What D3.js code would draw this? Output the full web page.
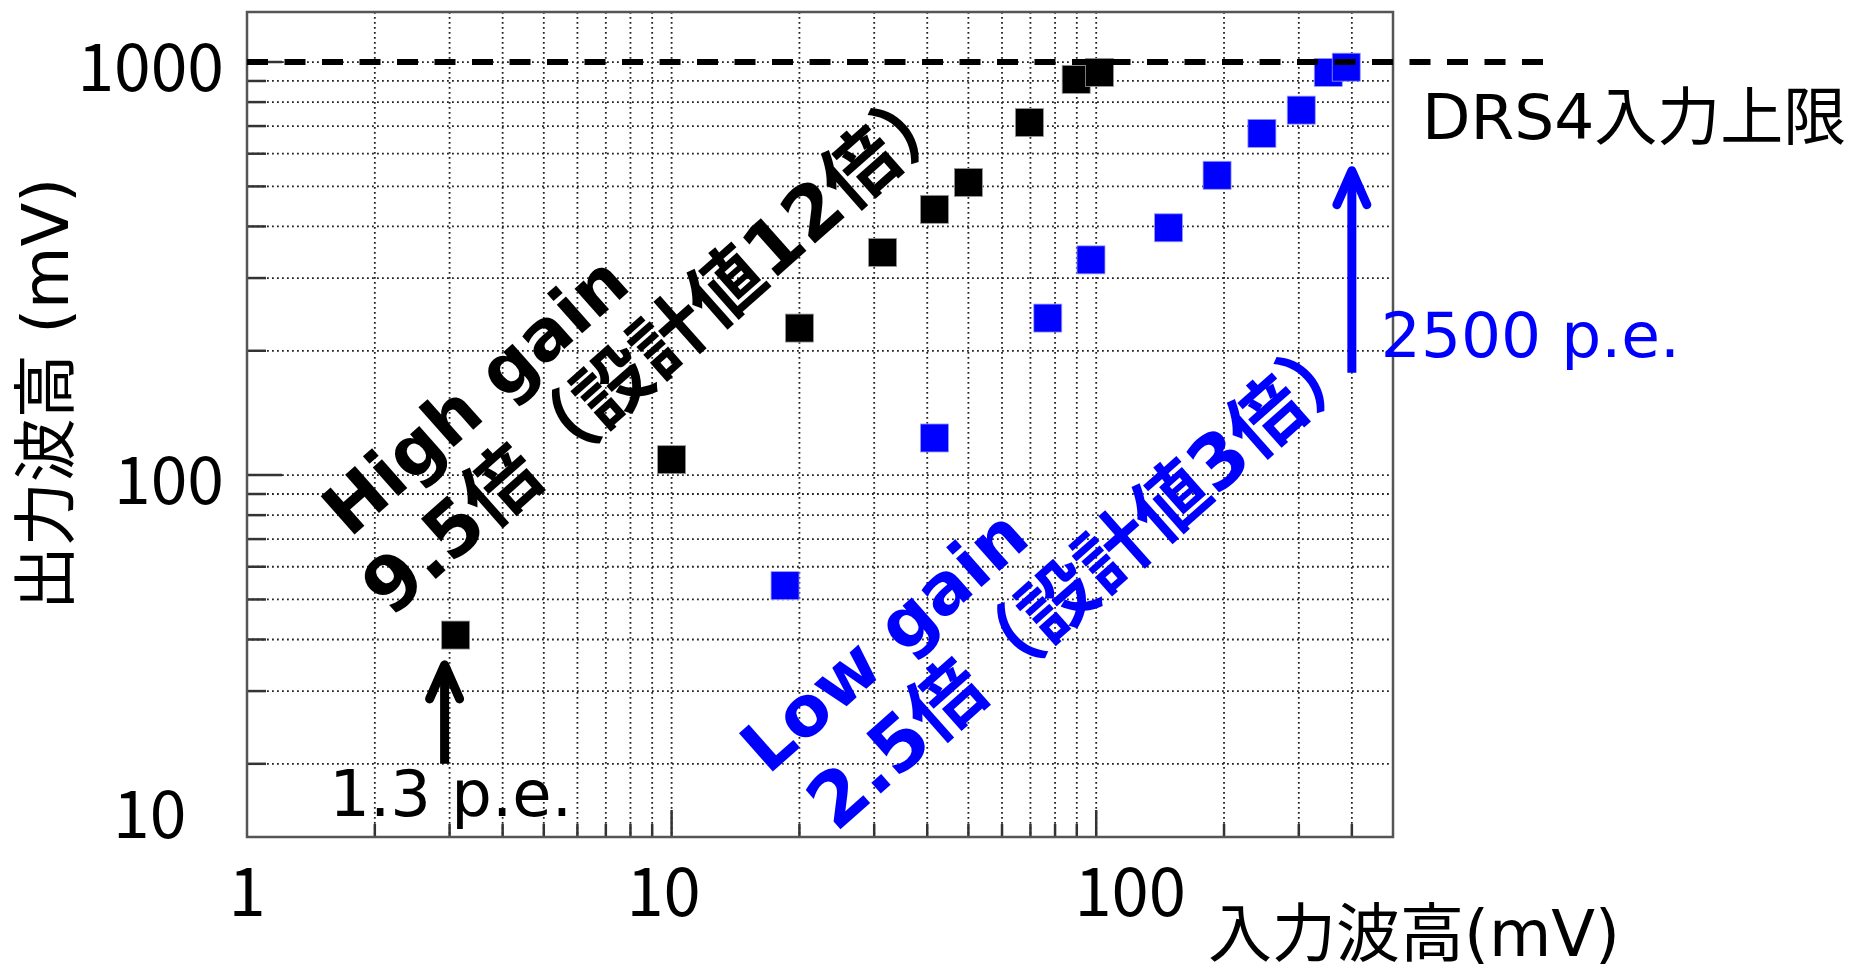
<!DOCTYPE html>
<html>
<head>
<meta charset="utf-8">
<title>High gain / Low gain</title>
<script src="https://d3js.org/d3.v7.min.js"></script>
<style>
    body { margin: 0; background: #fff; }
    .grid line { stroke: #222; stroke-width: 1.8; stroke-dasharray: 1.8,3.2; }
    .frame { fill: none; stroke: #555; stroke-width: 2.5; }
    .tickmark { stroke: #333; stroke-width: 2.5; }
    .num { font-family: "Noto Sans CJK JP", sans-serif; fill: #000; }
    .lbl { font-family: "DejaVu Sans", "Noto Sans CJK JP", sans-serif; }
</style>
</head>
<body>
<svg width="1865" height="971"></svg>
<script>
    // input amplitude (mV) vs output amplitude (mV)
    var hiX = [3.1, 10, 20, 31.4, 41.6, 50, 69.6, 89.7, 101.8];
    var hiY = [41, 109, 227, 346, 440, 511, 714, 908, 944];
    var loX = [18.5, 41.6, 76.9, 97.2, 148, 192.6, 245.6, 304, 352, 388];
    var loY = [54, 123, 240, 332, 397, 532, 672, 765, 944, 972];

    var xTicks = [1, 10, 100];
    var yTicks = [1000, 100, 10];
    var drsLimit = 1000;

    // arrows: x, from, to (mV)
    var hiArrow = [2.92, 20, 35.5];
    var loArrow = [400, 177, 558];

    var svg = d3.select("svg");
    svg.append("rect").attr("width", 1865).attr("height", 971).attr("fill", "#fff");

    var x = d3.scaleLog().domain([1, 500]).range([247, 1393]);
    var y = d3.scaleLog().domain([13.3, 1322]).range([837, 12]);
    var L = x.range()[0], R = x.range()[1], B = y.range()[0], T = y.range()[1];

    function minorVals(lo, hi) {
        var out = [];
        for (var d = Math.pow(10, Math.floor(Math.log10(lo))); d <= hi; d *= 10) {
            for (var k = 1; k <= 9; k++) {
                var v = k * d;
                if (v > lo * 1.0001 && v < hi * 0.9999) out.push({v: v, major: k === 1});
            }
        }
        return out;
    }
    var xv = minorVals(1, 500), yv = minorVals(13.3, 1322);

    // grid
    var grid = svg.append("g").attr("class", "grid");
    grid.selectAll(".gx").data(xv).enter().append("line")
        .attr("x1", function(d) { return x(d.v); }).attr("x2", function(d) { return x(d.v); })
        .attr("y1", T).attr("y2", B);
    grid.selectAll(".gy").data(yv).enter().append("line")
        .attr("y1", function(d) { return y(d.v); }).attr("y2", function(d) { return y(d.v); })
        .attr("x1", L).attr("x2", R);

    // ticks
    svg.selectAll(".tx").data(xv).enter().append("line").attr("class", "tickmark")
        .attr("x1", function(d) { return x(d.v); }).attr("x2", function(d) { return x(d.v); })
        .attr("y1", B).attr("y2", function(d) { return B - (d.major ? 27 : 13); });
    svg.selectAll(".ty").data(yv).enter().append("line").attr("class", "tickmark")
        .attr("y1", function(d) { return y(d.v); }).attr("y2", function(d) { return y(d.v); })
        .attr("x1", L).attr("x2", function(d) { return L + (d.major ? 35 : 19); });

    svg.append("rect").attr("class", "frame")
        .attr("x", L).attr("y", T).attr("width", R - L).attr("height", B - T);

    // tick labels
    var xNudge = {10: -8, 100: 34};
    svg.selectAll(".xl").data(xTicks).enter().append("text").attr("class", "num")
        .attr("x", function(d) { return x(d) + (xNudge[d] || 0); })
        .attr("y", 916)
        .attr("text-anchor", "middle")
        .style("font-size", "67px")
        .text(function(d) { return d; });
    svg.selectAll(".yl").data(yTicks).enter().append("text").attr("class", "num")
        .attr("x", function(d) { return d < y.domain()[0] ? 113 : L - 23; })
        .attr("y", function(d) { return d < y.domain()[0] ? B + 1 : y(d) + 29; })
        .attr("text-anchor", function(d) { return d < y.domain()[0] ? "start" : "end"; })
        .style("font-size", "66px")
        .text(function(d) { return d; });

    // axis titles
    svg.append("text").attr("class", "lbl")
        .attr("transform", "translate(68,394) rotate(-90)")
        .attr("text-anchor", "middle")
        .style("font-size", "64px")
        .text("出力波高 (mV)");
    svg.append("text").attr("class", "lbl")
        .attr("x", 1208).attr("y", 956)
        .style("font-size", "64px")
        .text("入力波高(mV)");

    // markers
    var sq = 28;
    svg.selectAll(".hi").data(hiX).enter().append("rect")
        .attr("x", function(d) { return x(d) - sq / 2; })
        .attr("y", function(d, i) { return y(hiY[i]) - sq / 2; })
        .attr("width", sq).attr("height", sq)
        .attr("fill", "#000").attr("stroke", "#999").attr("stroke-width", 0.8);
    svg.selectAll(".lo").data(loX).enter().append("rect")
        .attr("x", function(d) { return x(d) - sq / 2; })
        .attr("y", function(d, i) { return y(loY[i]) - sq / 2; })
        .attr("width", sq).attr("height", sq)
        .attr("fill", "#0000ff").attr("stroke", "#99f").attr("stroke-width", 0.8);

    // DRS4 limit
    svg.append("line")
        .attr("x1", L).attr("x2", 1543)
        .attr("y1", y(drsLimit)).attr("y2", y(drsLimit))
        .attr("stroke", "#000").attr("stroke-width", 6)
        .attr("stroke-dasharray", "21,16.5");
    svg.append("text").attr("class", "lbl")
        .attr("x", R + 29).attr("y", y(drsLimit) + 77)
        .style("font-size", "63px")
        .text("DRS4入力上限");

    // arrows
    function arrow(a, color) {
        var ax = x(a[0]), y0 = y(a[1]), tip = y(a[2]) + 4;
        svg.append("line").attr("x1", ax).attr("x2", ax).attr("y1", y0).attr("y2", tip + 2)
            .attr("stroke", color).attr("stroke-width", 9);
        svg.append("polyline")
            .attr("points", [[ax - 15, tip + 34], [ax, tip], [ax + 15, tip + 34]].join(" "))
            .attr("fill", "none").attr("stroke", color).attr("stroke-width", 9)
            .attr("stroke-linecap", "round").attr("stroke-linejoin", "round");
        return [ax, y0];
    }
    var ha = arrow(hiArrow, "#000");
    var la = arrow(loArrow, "#0000ff");

    svg.append("text").attr("class", "lbl")
        .attr("x", ha[0] + 6).attr("y", ha[1] + 52)
        .attr("text-anchor", "middle")
        .style("font-size", "64px")
        .text("1.3 p.e.");
    svg.append("text").attr("class", "lbl")
        .attr("x", la[0] + 29).attr("y", la[1] - 16)
        .attr("fill", "#0000ff")
        .style("font-size", "63px")
        .text("2500 p.e.");

    // gain labels, rotated
    function gainLabel(px, py, l1, l2, off, color) {
        var g = svg.append("g")
            .attr("transform", "translate(" + x(px) + "," + y(py) + ") rotate(-41.5)")
            .attr("class", "lbl")
            .style("font-weight", "bold")
            .attr("fill", color);
        g.append("text").style("font-size", "70px").text(l1);
        g.append("text").attr("x", off[0]).attr("y", off[1])
            .style("font-size", "75px").text(l2);
    }
    gainLabel(1.746, 70.1, "High gain", "9.5倍（設計値12倍）", [-22, 87], "#000");
    gainLabel(16.86, 18.7, "Low gain", "2.5倍（設計値3倍）", [13, 88], "#0000ff");
</script>
</body>
</html>
